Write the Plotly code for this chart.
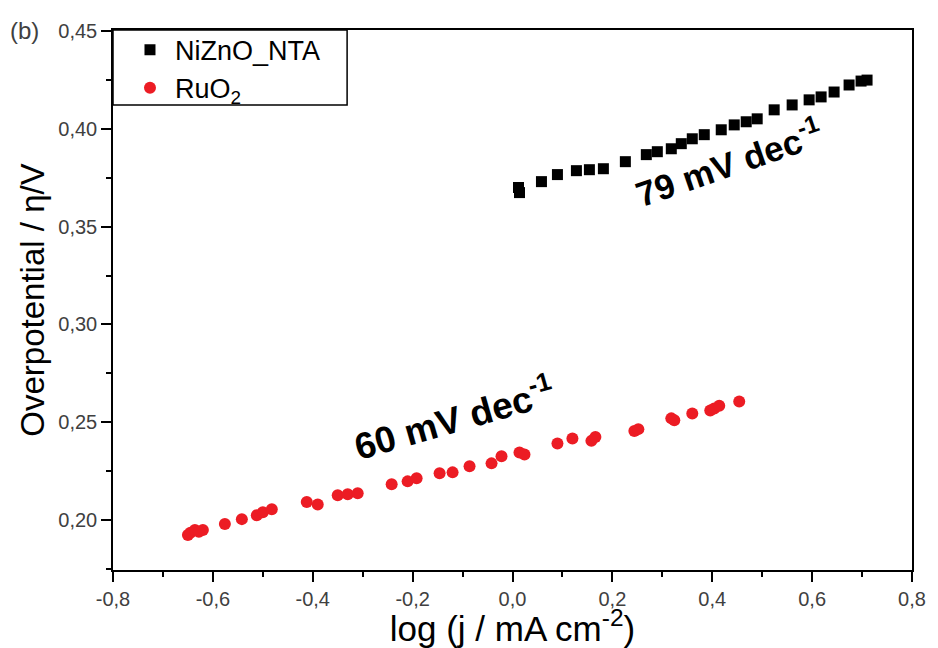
import plotly.graph_objects as go

# NiZnO_NTA data
nizno_x = [0.012, 0.014, 0.058, 0.090, 0.128, 0.154, 0.182, 0.226, 0.268, 0.290,
           0.318, 0.338, 0.360, 0.384, 0.418, 0.444, 0.468, 0.490, 0.524, 0.560,
           0.594, 0.618, 0.644, 0.674, 0.698, 0.710]
nizno_y = [0.370, 0.3674, 0.373, 0.3766, 0.3786, 0.3791, 0.3796, 0.3832, 0.3868, 0.3883,
           0.3898, 0.3924, 0.3949, 0.397, 0.3995, 0.402, 0.4036, 0.4051, 0.4097, 0.4122,
           0.4148, 0.4163, 0.4188, 0.4224, 0.4244, 0.4249]

# RuO2 data
ruo2_x = [-0.650, -0.645, -0.636, -0.620, -0.628, -0.576, -0.542, -0.512, -0.500, -0.482,
          -0.412, -0.390, -0.350, -0.330, -0.310, -0.242, -0.210, -0.192, -0.146, -0.120,
          -0.086, -0.042, -0.022, 0.014, 0.024, 0.090, 0.120, 0.158, 0.166, 0.244,
          0.252, 0.318, 0.324, 0.360, 0.396, 0.404, 0.414, 0.454]
ruo2_y = [0.1924, 0.1935, 0.1949, 0.1949, 0.1940, 0.1980, 0.2005, 0.2025, 0.2040, 0.2056,
          0.2092, 0.2080, 0.2127, 0.2132, 0.2137, 0.2183, 0.2198, 0.2214, 0.2239, 0.2244,
          0.2275, 0.2290, 0.2326, 0.2345, 0.2335, 0.2392, 0.2417, 0.2405, 0.2425, 0.2455,
          0.2465, 0.2520, 0.2510, 0.2545, 0.2560, 0.2570, 0.2585, 0.2606]

x_tickvals = [-0.8, -0.6, -0.4, -0.2, 0.0, 0.2, 0.4, 0.6, 0.8]
x_ticktext = ["-0,8", "-0,6", "-0,4", "-0,2", "0,0", "0,2", "0,4", "0,6", "0,8"]
y_tickvals = [0.20, 0.25, 0.30, 0.35, 0.40, 0.45]
y_ticktext = ["0,20", "0,25", "0,30", "0,35", "0,40", "0,45"]

FONT = "Arial, Liberation Sans, sans-serif"

fig = go.Figure()
fig.add_trace(go.Scatter(x=nizno_x, y=nizno_y, mode="markers", name="NiZnO_NTA",
                         marker=dict(symbol="square", size=11, color="black")))
fig.add_trace(go.Scatter(x=ruo2_x, y=ruo2_y, mode="markers", name="RuO<sub>2</sub>",
                         marker=dict(symbol="circle", size=12, color="#EC1C24")))

axis_common = dict(showline=True, linecolor="black", linewidth=1.5, mirror=True,
                   ticks="outside", ticklen=10, tickwidth=1.5, tickcolor="black",
                   showgrid=False, zeroline=False, automargin=False,
                   tickfont=dict(family=FONT, size=20, color="#404040"))

fig.update_xaxes(range=[-0.8, 0.8], tickvals=x_tickvals, ticktext=x_ticktext,
                 minor=dict(ticks="outside", ticklen=5, tickwidth=1.5, tickcolor="black", dtick=0.1,
                            tick0=-0.8),
                 title=dict(text="log (j / mA cm<sup>-2</sup>)", standoff=12,
                            font=dict(family=FONT, size=35, color="black")),
                 **axis_common)
fig.update_yaxes(range=[0.1745, 0.4505], tickvals=y_tickvals, ticktext=y_ticktext,
                 minor=dict(ticks="outside", ticklen=5, tickwidth=1.5, tickcolor="black", dtick=0.025,
                            tick0=0.2),
                 title=dict(text="Overpotential / η/V", standoff=4,
                            font=dict(family=FONT, size=33, color="black")),
                 **axis_common)

fig.add_annotation(x=0.432, y=0.3832, xref="x", yref="y", text="<b>79 mV dec<sup>-1</sup></b>",
                   textangle=-19, showarrow=False,
                   font=dict(family=FONT, size=35, color="black"))
fig.add_annotation(x=-0.118, y=0.2524, xref="x", yref="y", text="<b>60 mV dec<sup>-1</sup></b>",
                   textangle=-16, showarrow=False,
                   font=dict(family=FONT, size=37, color="black"))
fig.add_annotation(x=-0.131, y=1.0, xref="paper", yref="paper", text="(b)", showarrow=False,
                   xanchor="left", yanchor="middle",
                   font=dict(family=FONT, size=24, color="#404040"))

fig.add_shape(type="rect", xref="paper", yref="paper", x0=0, x1=0.293, y0=0.861, y1=1.0,
              line=dict(color="black", width=1.5), fillcolor="rgba(0,0,0,0)")

fig.update_layout(
    width=938, height=648,
    margin=dict(l=113, r=26, t=30, b=78),
    paper_bgcolor="white", plot_bgcolor="white",
    showlegend=True,
    legend=dict(x=0.015, y=1.008, xanchor="left", yanchor="top",
                bgcolor="rgba(0,0,0,0)", borderwidth=0, itemwidth=40,
                font=dict(family=FONT, size=27, color="black")),
)

fig.write_html("out.html")
